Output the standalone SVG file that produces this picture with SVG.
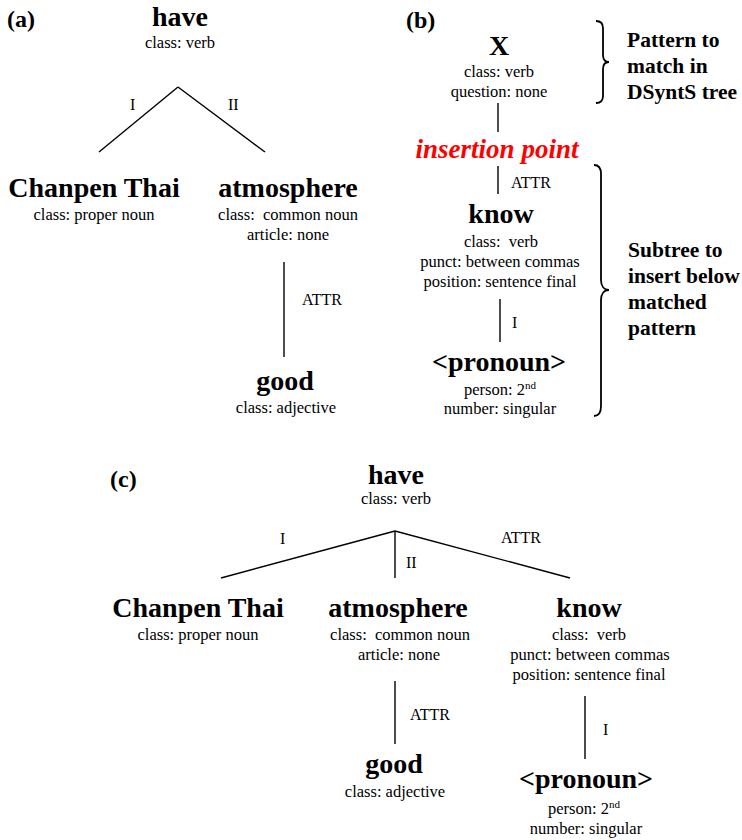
<svg xmlns="http://www.w3.org/2000/svg" width="742" height="840" viewBox="0 0 742 840" font-family="Liberation Serif, serif">
<style>
text{fill:#000;text-anchor:middle}
.nm{font-size:28px;font-weight:bold}
.at{font-size:16.5px}
.lb{font-size:16px;text-anchor:start}
.pl{font-size:24px;font-weight:bold;text-anchor:start}
.ip{font-size:27px;font-weight:bold;font-style:italic;fill:#ff0000}
.cm{font-size:21.5px;font-weight:bold;text-anchor:start}
.sup{font-size:11px}
line,path{stroke:#000;stroke-width:1.4;fill:none}
.br{stroke-width:1.8}
</style>
<rect width="742" height="840" fill="#fff"/>

<g id="panel-labels" font-family="Liberation Serif">
  <text class="pl" x="7" y="27">(a)</text>
  <text class="pl" x="406" y="28">(b)</text>
  <text class="pl" x="110" y="487">(c)</text>
</g>

<g id="connectors" font-family="Liberation Serif">
  <!-- (a) -->
  <line x1="178" y1="87" x2="99" y2="152"/>
  <line x1="178" y1="87" x2="265" y2="152"/>
  <line x1="284" y1="262" x2="284" y2="357"/>
  <!-- (b) -->
  <line x1="498" y1="103" x2="498" y2="132"/>
  <line x1="498" y1="166" x2="498" y2="194"/>
  <line x1="500" y1="299" x2="500" y2="342"/>
  <!-- (c) -->
  <line x1="395" y1="531" x2="221" y2="578"/>
  <line x1="395" y1="531" x2="395" y2="578"/>
  <line x1="395" y1="531" x2="570" y2="578"/>
  <line x1="395" y1="681" x2="395" y2="744"/>
  <line x1="585" y1="696" x2="585" y2="759"/>
  <!-- edge labels -->
  <text class="lb" x="130" y="110">I</text>
  <text class="lb" x="228" y="110">II</text>
  <text class="lb" x="302" y="305">ATTR</text>
  <text class="lb" x="511" y="188">ATTR</text>
  <text class="lb" x="512" y="328">I</text>
  <text class="lb" x="280" y="544">I</text>
  <text class="lb" x="406" y="568">II</text>
  <text class="lb" x="501" y="543">ATTR</text>
  <text class="lb" x="410" y="720">ATTR</text>
  <text class="lb" x="603" y="735">I</text>
</g>

<g id="tree-a" font-family="Liberation Serif">
<g id="a-have">
  <text class="nm" x="180" y="26">have</text>
  <text class="at" x="180" y="48">class: verb</text>
</g>
<g id="a-chanpen">
  <text class="nm" x="94" y="197">Chanpen Thai</text>
  <text class="at" x="94" y="220">class: proper noun</text>
</g>
<g id="a-atmosphere">
  <text class="nm" x="288" y="197">atmosphere</text>
  <text class="at" x="288" y="220">class:&#160; common noun</text>
  <text class="at" x="288" y="240">article: none</text>
</g>
<g id="a-good">
  <text class="nm" x="285" y="390">good</text>
  <text class="at" x="286" y="413">class: adjective</text>
</g>
</g>

<g id="tree-b" font-family="Liberation Serif">
<g id="b-x">
  <text class="nm" x="499" y="55">X</text>
  <text class="at" x="499" y="77">class: verb</text>
  <text class="at" x="499" y="97">question: none</text>
</g>
<g id="b-insertion">
  <text class="ip" x="497" y="158">insertion point</text>
</g>
<g id="b-know">
  <text class="nm" x="501" y="223">know</text>
  <text class="at" x="501" y="247">class:&#160; verb</text>
  <text class="at" x="500" y="267">punct: between commas</text>
  <text class="at" x="500" y="287">position: sentence final</text>
</g>
<g id="b-pronoun">
  <text class="nm" x="499" y="371">&lt;pronoun&gt;</text>
  <text class="at" x="500" y="395">person: 2<tspan class="sup" dy="-6">nd</tspan></text>
  <text class="at" x="500" y="414">number: singular</text>
</g>
<g id="b-braces">
  <path class="br" d="M596 21 C601 21 603 23 603 28 L603 55 C603 59 605 62 609 62 C605 62 603 65 603 69 L603 96 C603 101 601 103 596 103"/>
  <path class="br" d="M594 165 C599 165 601 168 601 174 L601 280 C601 286 604 290 609 290 C604 290 601 294 601 300 L601 406 C601 412 599 416 594 416"/>
  <text class="cm" x="627" y="47">Pattern to</text>
  <text class="cm" x="627" y="73">match in</text>
  <text class="cm" x="627" y="99">DSyntS tree</text>
  <text class="cm" x="628" y="257">Subtree to</text>
  <text class="cm" x="628" y="283">insert below</text>
  <text class="cm" x="628" y="309">matched</text>
  <text class="cm" x="628" y="335">pattern</text>
</g>
</g>

<g id="tree-c" font-family="Liberation Serif">
<g id="c-have">
  <text class="nm" x="396" y="484">have</text>
  <text class="at" x="396" y="504">class: verb</text>
</g>
<g id="c-chanpen">
  <text class="nm" x="198" y="617">Chanpen Thai</text>
  <text class="at" x="198" y="640">class: proper noun</text>
</g>
<g id="c-atmosphere">
  <text class="nm" x="398" y="617">atmosphere</text>
  <text class="at" x="400" y="640">class:&#160; common noun</text>
  <text class="at" x="399" y="660">article: none</text>
</g>
<g id="c-know">
  <text class="nm" x="589" y="617">know</text>
  <text class="at" x="589" y="640">class:&#160; verb</text>
  <text class="at" x="590" y="660">punct: between commas</text>
  <text class="at" x="589" y="680">position: sentence final</text>
</g>
<g id="c-good">
  <text class="nm" x="394" y="773">good</text>
  <text class="at" x="395" y="797">class: adjective</text>
</g>
<g id="c-pronoun">
  <text class="nm" x="586" y="788">&lt;pronoun&gt;</text>
  <text class="at" x="584" y="814">person: 2<tspan class="sup" dy="-6">nd</tspan></text>
  <text class="at" x="586" y="834">number: singular</text>
</g>
</g>
</svg>
